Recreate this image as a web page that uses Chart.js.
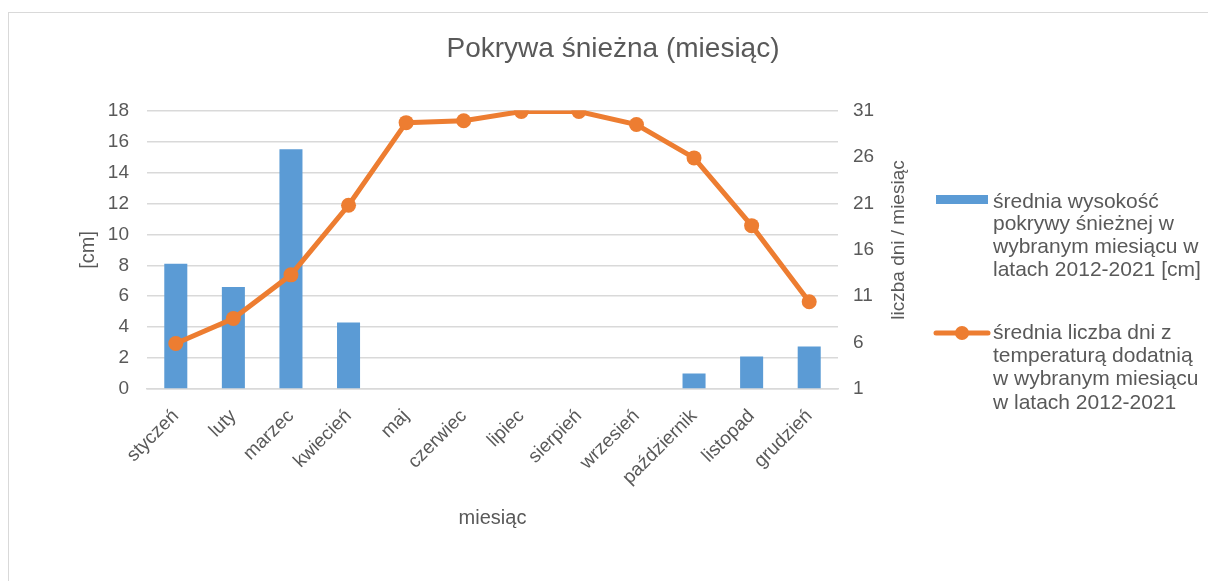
<!DOCTYPE html>
<html>
<head>
<meta charset="utf-8">
<script src="https://cdn.jsdelivr.net/npm/chart.js@4/dist/chart.umd.min.js"></script>
<style>
  body { margin: 0; background: #fff; overflow: hidden; }
  #ramka { position: absolute; left: 8px; top: 12px; width: 1300px; height: 700px; border: 1px solid #d9d9d9; }
  #wykres { position: absolute; left: 0; top: 0; }
</style>
</head>
<body>
<div id="ramka"></div>
<canvas id="wykres" width="1208" height="581"></canvas>
<script>
// dane
const miesiace = ['styczeń', 'luty', 'marzec', 'kwiecień', 'maj', 'czerwiec', 'lipiec', 'sierpień', 'wrzesień', 'październik', 'listopad', 'grudzień'];
const snieg = [8.1, 6.6, 15.5, 4.3, 0, 0, 0, 0, 0, 1.0, 2.1, 2.75];
const dniDodatnie = [5.9, 8.6, 13.3, 20.8, 29.7, 29.9, 30.9, 30.9, 29.5, 25.9, 18.6, 10.4];
const ticksPrawe = [1, 6, 11, 16, 21, 26, 31];
const legendaSnieg = ['średnia wysokość', 'pokrywy śnieżnej w', 'wybranym miesiącu w', 'latach 2012-2021 [cm]'];
const legendaDni = ['średnia liczba dni z', 'temperaturą dodatnią', 'w wybranym miesiącu', 'w latach 2012-2021'];

const szary = '#595959';
const niebieski = '#5B9BD5';
const pomarancz = '#ED7D31';
const czcionka = '"Liberation Sans", Arial, sans-serif';

Chart.defaults.font.family = czcionka;
Chart.defaults.color = szary;

// legenda i prawy tytul osi rysowane recznie (tekst zawijany jak w Excelu)
const legendaPlugin = {
    id: 'legendaPlugin',
    afterDraw(chart) {
        const ctx = chart.ctx;
        ctx.save();
        ctx.fillStyle = szary;
        ctx.textBaseline = 'middle';

        // tytul prawej osi (czytany od dolu)
        ctx.save();
        ctx.font = '19px ' + czcionka;
        ctx.translate(899, 240);
        ctx.rotate(-Math.PI / 2);
        ctx.textAlign = 'center';
        ctx.fillText('liczba dni / miesiąc', 0, 0);
        ctx.restore();

        ctx.font = '21px ' + czcionka;
        ctx.textAlign = 'left';
        // slupki
        ctx.fillStyle = niebieski;
        ctx.fillRect(936, 195, 52, 9);
        ctx.fillStyle = szary;
        legendaSnieg.forEach((t, i) => ctx.fillText(t, 993, 202 + i * 22.7));

        // linia
        ctx.strokeStyle = pomarancz;
        ctx.lineWidth = 5;
        ctx.lineCap = 'round';
        ctx.beginPath();
        ctx.moveTo(936, 333);
        ctx.lineTo(988, 333);
        ctx.stroke();
        ctx.fillStyle = pomarancz;
        ctx.beginPath();
        ctx.arc(962, 333, 7, 0, Math.PI * 2);
        ctx.fill();
        ctx.fillStyle = szary;
        legendaDni.forEach((t, i) => ctx.fillText(t, 993, 333 + i * 23.3));
        ctx.restore();
    }
};

const ctx = document.getElementById('wykres').getContext('2d');
new Chart(ctx, {
    data: {
        labels: miesiace,
        datasets: [
            {
                type: 'line',
                label: legendaDni.join(' '),
                data: dniDodatnie,
                yAxisID: 'y1',
                borderColor: pomarancz,
                backgroundColor: pomarancz,
                borderWidth: 5,
                pointRadius: 7.5,
                pointHoverRadius: 7.5,
                pointBorderWidth: 0,
                tension: 0,
                order: 0
            },
            {
                type: 'bar',
                label: legendaSnieg.join(' '),
                data: snieg,
                yAxisID: 'y',
                backgroundColor: niebieski,
                barPercentage: 0.4,
                categoryPercentage: 1,
                order: 1
            }
        ]
    },
    options: {
        responsive: false,
        devicePixelRatio: 1,
        animation: false,
        layout: { padding: { left: 18, right: 0, top: 0, bottom: 40 } },
        plugins: {
            legend: { display: false },
            tooltip: { enabled: false },
            title: {
                display: true,
                text: 'Pokrywa śnieżna (miesiąc)',
                color: szary,
                font: { size: 28, weight: 'normal' },
                padding: { top: 32, bottom: 45 }
            }
        },
        scales: {
            x: {
                grid: { display: false },
                border: { color: '#d9d9d9', width: 1.5 },
                ticks: { color: szary, font: { size: 19 }, maxRotation: 45, minRotation: 45, padding: 8 },
                title: { display: true, text: 'miesiąc', color: szary, font: { size: 20 }, padding: { top: 4, bottom: 11 } },
                afterFit(s) { s.height = 581 - 40 - 389; }
            },
            y: {
                position: 'left',
                min: 0,
                max: 18,
                ticks: { stepSize: 2, color: szary, font: { size: 19 }, padding: 18 },
                grid: { color: '#d9d9d9', lineWidth: 1.5, drawTicks: false },
                border: { display: false },
                title: { display: true, text: '[cm]', color: szary, font: { size: 20 }, padding: { top: 58, bottom: 0 } },
                afterFit(s) { s.width = 147 - 18; }
            },
            y1: {
                position: 'right',
                min: 1,
                max: 31,
                afterBuildTicks(s) { s.ticks = ticksPrawe.map(v => ({ value: v })); },
                ticks: { color: szary, font: { size: 19 }, padding: 15 },
                grid: { display: false, drawTicks: false },
                border: { display: false },
                afterFit(s) { s.width = 1208 - 838; }
            }
        }
    },
    plugins: [legendaPlugin]
});
</script>
</body>
</html>
